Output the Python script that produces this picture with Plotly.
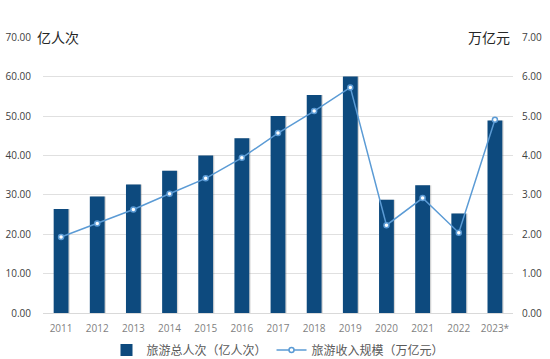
import plotly.graph_objects as go

years = ["2011", "2012", "2013", "2014", "2015", "2016", "2017", "2018", "2019", "2020", "2021", "2022", "2023*"]
visitors = [26.41, 29.57, 32.62, 36.11, 40.00, 44.40, 50.01, 55.39, 60.06, 28.79, 32.46, 25.30, 48.91]
revenue = [1.93, 2.27, 2.63, 3.03, 3.42, 3.94, 4.57, 5.13, 5.73, 2.23, 2.92, 2.04, 4.91]
left_ticks = [0, 10, 20, 30, 40, 50, 60, 70]
right_ticks = [0, 1, 2, 3, 4, 5, 6, 7]

font_cjk = "Noto Sans CJK SC"
font_num = "Open Sans"

fig = go.Figure()
# soft shadow behind bars
fig.add_trace(go.Bar(x=years, y=visitors, width=0.41, offset=-0.17,
                     marker=dict(color="rgba(120,120,120,0.3)", line=dict(width=0)),
                     showlegend=False, hoverinfo="skip", yaxis="y"))
fig.add_trace(go.Bar(x=years, y=visitors, name="旅游总人次（亿人次）", width=0.41, offset=-0.205,
                     marker=dict(color="#0d4a7e", line=dict(width=0)), yaxis="y"))
fig.add_trace(go.Scatter(x=years, y=revenue, name="旅游收入规模（万亿元）", mode="lines+markers",
                         line=dict(color="#5b9bd5", width=1.5),
                         marker=dict(symbol="circle", size=5, color="white",
                                     line=dict(color="#5b9bd5", width=1.5)),
                         yaxis="y2"))

fig.update_layout(
    width=550, height=359, autosize=False,
    margin=dict(l=43, r=37, t=37, b=46, autoexpand=False),
    plot_bgcolor="white", paper_bgcolor="white",
    barmode="overlay",
    xaxis=dict(type="category", range=[-0.5, 12.5], autorange=False,
               tickfont=dict(family=font_num, size=10, color="#7f7f7f"),
               showgrid=False, showline=True, linecolor="#d9d9d9", ticks="", automargin=False,
               ticklabelstandoff=6),
    yaxis=dict(range=[0, 70.1], tickvals=left_ticks, ticktext=[f"{v:.2f}" for v in left_ticks],
               tickfont=dict(family=font_num, size=10, color="#404040"),
               showgrid=True, gridcolor="#e0e0e0", gridwidth=1, zeroline=False, showline=False,
               ticklabelstandoff=11, automargin=False),
    yaxis2=dict(range=[0, 7.01], tickvals=right_ticks, ticktext=[f"{v:.2f}" for v in right_ticks],
                overlaying="y", side="right",
                tickfont=dict(family=font_num, size=10, color="#404040"),
                showgrid=False, zeroline=False, showline=False, ticklabelstandoff=8, automargin=False),
    legend=dict(orientation="h", x=0.5, xanchor="center", yref="container", y=0.025, yanchor="middle",
                font=dict(family=font_cjk, size=12, color="#595959"),
                traceorder="normal"),
    showlegend=True,
    annotations=[
        dict(text="亿人次", xref="paper", yref="paper", x=-0.017, y=1.0, xanchor="left", yanchor="middle",
             showarrow=False, font=dict(family=font_cjk, size=14, color="#262626"), bgcolor="white"),
        dict(text="万亿元", xref="paper", yref="paper", x=0.998, y=1.0, xanchor="right", yanchor="middle",
             showarrow=False, font=dict(family=font_cjk, size=14, color="#262626"), bgcolor="white"),
    ],
)

fig.write_html("out.html", config={"displayModeBar": False},
               post_script="document.body.style.margin='0';document.body.style.overflow='hidden';")
